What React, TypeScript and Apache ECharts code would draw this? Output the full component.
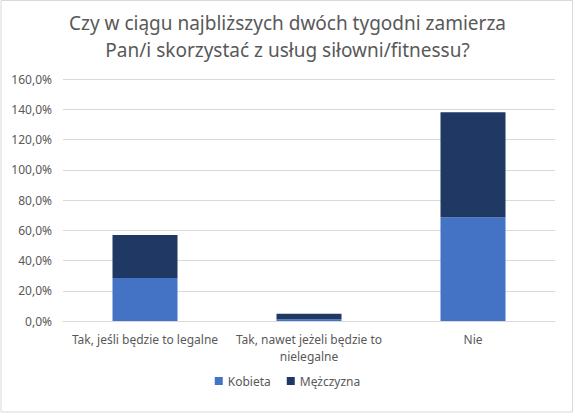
import React, { useEffect, useRef } from "react";
import * as echarts from "echarts";

const categories = [
  "Tak, jeśli będzie to legalne",
  "Tak, nawet jeżeli będzie to\nnielegalne",
  "Nie",
];
const kobieta = [28.4, 1.2, 68.6];
const mezczyzna = [28.5, 3.6, 69.4];
const yTicks = [0, 20, 40, 60, 80, 100, 120, 140, 160];

const FONT = "'Noto Sans', 'Open Sans', sans-serif";
const GRAY = "#595959";

export default function App() {
  const ref = useRef<HTMLDivElement>(null);
  useEffect(() => {
    if (!ref.current) return;
    const chart = echarts.init(ref.current, undefined, { renderer: "svg" });
    chart.setOption({
      animation: false,
      backgroundColor: "#ffffff",
      textStyle: { fontFamily: FONT },
      title: {
        text: "Czy w ciągu najbliższych dwóch tygodni zamierza\nPan/i skorzystać z usług siłowni/fitnessu?",
        left: "center",
        top: 4,
        textStyle: {
          fontFamily: FONT,
          fontSize: 19,
          fontWeight: "normal",
          color: GRAY,
          lineHeight: 27,
        },
      },
      graphic: [
        {
          type: "rect",
          shape: { x: 1, y: 0.5, width: 571.5, height: 411.5 },
          style: { fill: "none", stroke: "#d9d9d9", lineWidth: 1 },
          silent: true,
        },
      ],
      legend: {
        bottom: 25,
        left: "center",
        itemWidth: 8,
        itemHeight: 8,
        itemGap: 16,
        icon: "rect",
        textStyle: { color: GRAY, fontSize: 12, fontFamily: FONT },
        data: ["Kobieta", "Mężczyzna"],
      },
      grid: { left: 63, right: 20, top: 79, bottom: 96 },
      xAxis: {
        type: "category",
        data: categories,
        axisTick: { show: false },
        axisLine: { lineStyle: { color: "#d9d9d9" } },
        axisLabel: {
          color: GRAY,
          fontSize: 12,
          fontFamily: FONT,
          margin: 10,
          lineHeight: 17,
          interval: 0,
        },
      },
      yAxis: {
        type: "value",
        min: yTicks[0],
        max: yTicks[yTicks.length - 1],
        interval: 20,
        axisLine: { show: false },
        axisTick: { show: false },
        splitLine: { lineStyle: { color: "#d9d9d9" } },
        axisLabel: {
          color: GRAY,
          fontSize: 12,
          fontFamily: FONT,
          margin: 11,
          formatter: (v: number) => v.toFixed(1).replace(".", ",") + "%",
        },
      },
      series: [
        {
          name: "Kobieta",
          type: "bar",
          stack: "total",
          barWidth: 65,
          data: kobieta,
          itemStyle: { color: "#4472C4" },
        },
        {
          name: "Mężczyzna",
          type: "bar",
          stack: "total",
          barWidth: 65,
          data: mezczyzna,
          itemStyle: { color: "#203864" },
        },
      ],
    });
    return () => chart.dispose();
  }, []);
  return (
    <div
      ref={ref}
      style={{ position: "absolute", left: 0, top: 0, width: 575, height: 417 }}
    />
  );
}
